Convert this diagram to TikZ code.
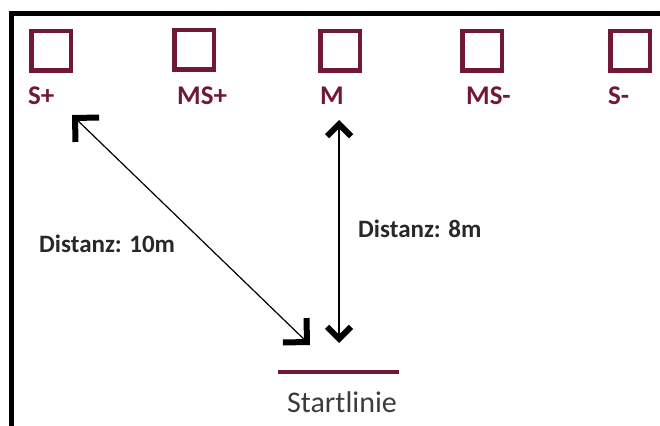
\documentclass[tikz,border=0pt]{standalone}
\usepackage{fontspec}
\setmainfont{Carlito}
\usetikzlibrary{arrows.meta}
\definecolor{conemaroon}{RGB}{112,24,52}
\definecolor{inkgray}{RGB}{40,40,40}
\definecolor{startgray}{RGB}{60,60,60}
\begin{document}
\begin{tikzpicture}[x=1pt,y=-1pt,
  cone/.style={draw=conemaroon, line width=4.5pt, minimum size=39.5pt, inner sep=0pt},
  conelabel/.style={anchor=base west, inner sep=0pt, text=conemaroon,
    font=\fontsize{27}{27}\selectfont\bfseries},
  distlabel/.style={anchor=base west, inner sep=0pt, text=inkgray,
    font=\fontsize{25}{25}\selectfont\bfseries},
  bigbarb/.tip={Straight Barb[length=17pt, width=34pt, line width=6pt, sharp]},
  smallbarb/.tip={Straight Barb[length=12pt, width=24pt, line width=6pt, sharp]},
  measure/.style={line width=1.2pt}
]
\useasboundingbox (0,0) rectangle (660,425);

% outer frame (only top and left edges are in view)
\draw[line width=5pt, line join=miter] (11,440) -- (11,13.5) -- (680,13.5);

% cones
\node[cone] (sqSp)  at (51,51)  {};
\node[cone] (sqMSp) at (194,50) {};
\node[cone] (sqM)   at (340,51) {};
\node[cone] (sqMSm) at (482,51) {};
\node[cone] (sqSm)  at (630,51) {};

% cone labels
\node[conelabel] (lbSp)  at (28,105)  {S+};
\node[conelabel] (lbMSp) at (177,105) {MS+};
\node[conelabel] (lbM)   at (320,105) {M};
\node[conelabel] (lbMSm) at (466,105) {MS-};
\node[conelabel] (lbSm)  at (608,105) {S-};

% start line
\coordinate (startL) at (278,372);
\coordinate (startR) at (399,372);
\draw[conemaroon, line width=4.5pt] (startL) -- (startR);
\node[anchor=base, inner sep=0pt, text=startgray, font=\fontsize{30}{30}\selectfont]
  (startlbl) at (342,412) {Startlinie};

% distance arrows
\coordinate (tenTop) at (72,115);
\coordinate (tenBot) at (310,345);
\coordinate (eightTop) at (339,120);
\coordinate (eightBot) at (339,343);
\draw[measure, bigbarb-bigbarb] (tenTop) -- (tenBot);
\draw[measure, smallbarb-smallbarb] (eightTop) -- (eightBot);

% distance labels
\node[distlabel] (dist10) at (39,252) {Distanz: 10m};
\node[distlabel] (dist8)  at (358,237) {Distanz: 8m};
\end{tikzpicture}
\end{document}
